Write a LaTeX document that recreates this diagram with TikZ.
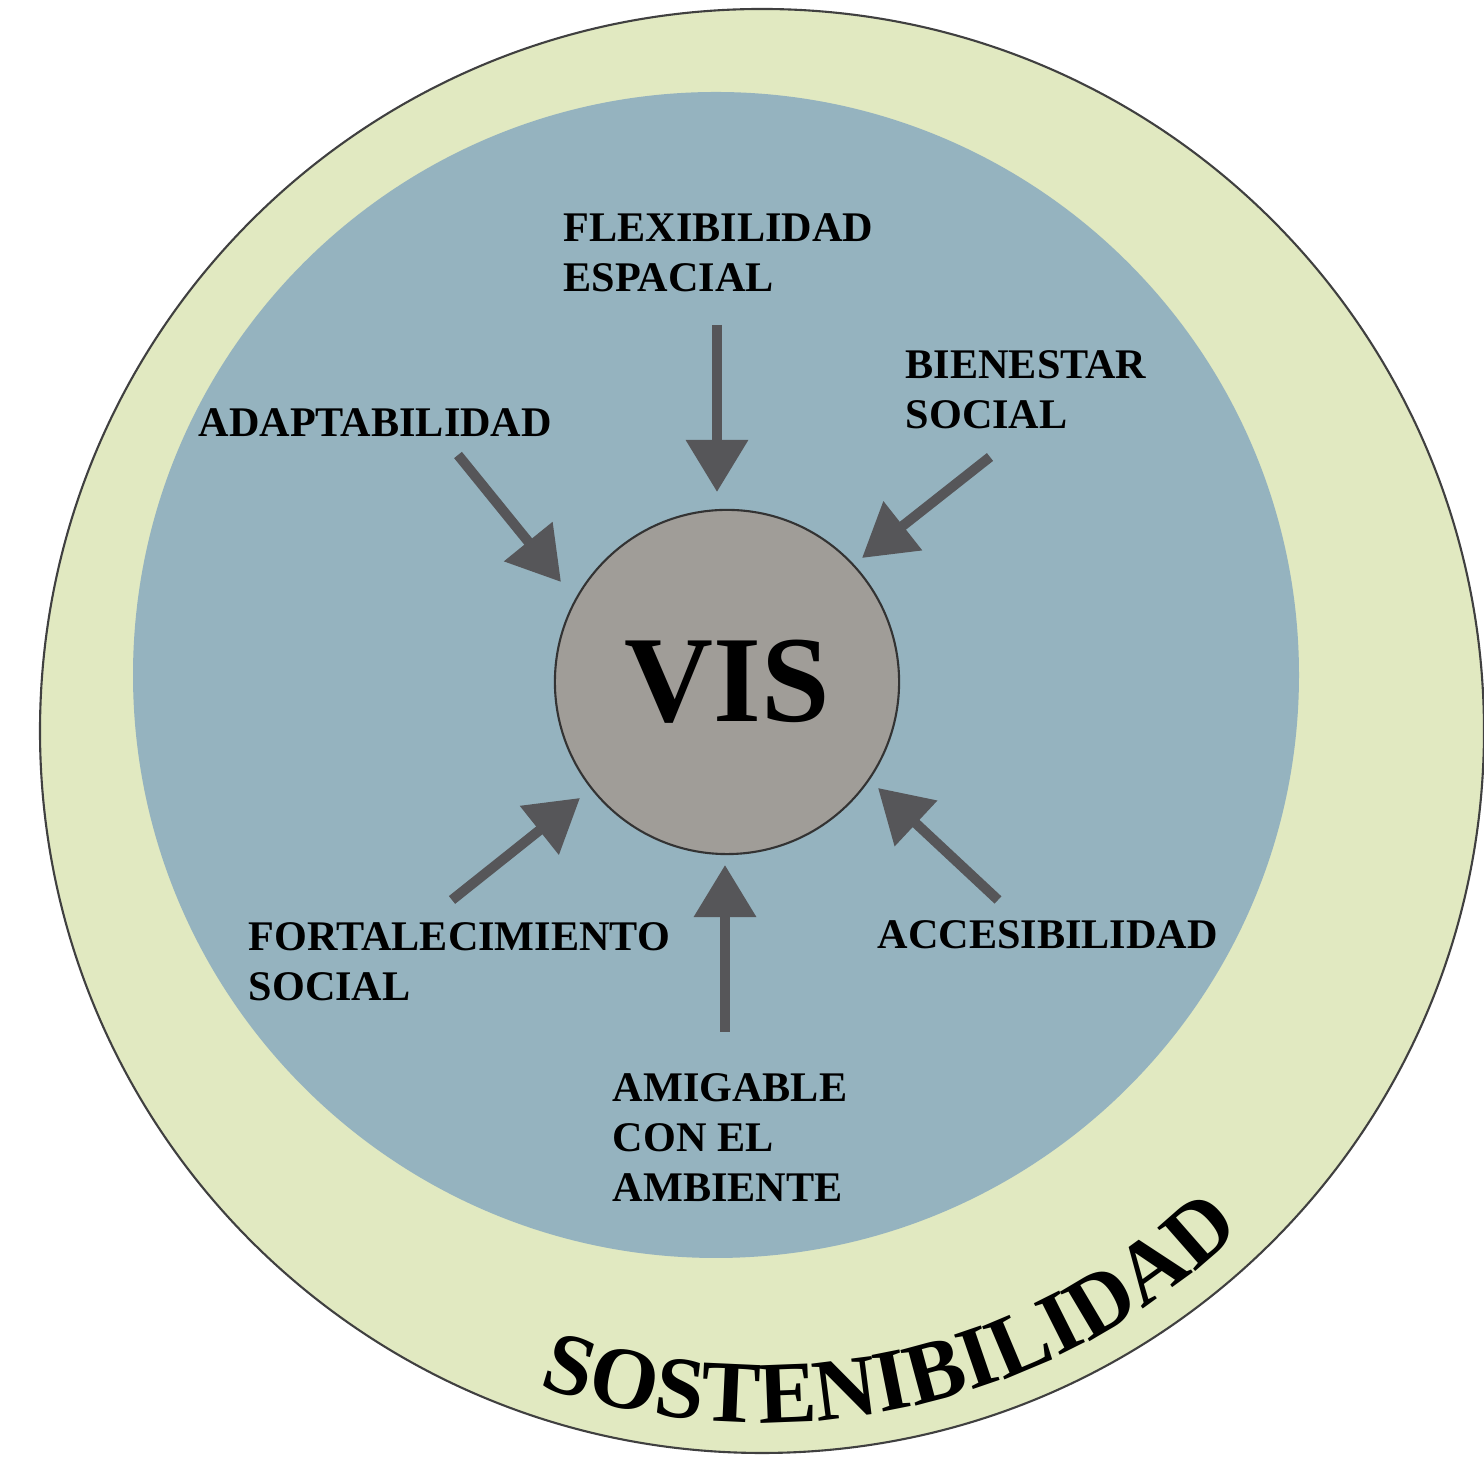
\documentclass[tikz,border=0pt]{standalone}
\usepackage{fontspec}
\setmainfont{Liberation Serif}
\usetikzlibrary{arrows.meta,decorations.text}
\definecolor{ringgreen}{RGB}{225,233,193}
\definecolor{coreblue}{RGB}{149,179,191}
\definecolor{visgray}{RGB}{160,157,152}
\definecolor{arrowgray}{RGB}{86,86,89}
\newcommand\ringfont{\fontsize{25pt}{25pt}\selectfont\bfseries}
\begin{document}
\begin{tikzpicture}[x=0.01cm,y=0.01cm,
  lbl/.style={anchor=north west, inner sep=0pt, align=left,
    font=\fontsize{12pt}{14.2pt}\selectfont\bfseries},
  feeds/.style={draw=arrowgray, line width=0.1cm,
    -{Triangle[length=5.2mm,width=6mm]}}]
\useasboundingbox (0,0) rectangle (1484,1458);

% outer ring and inner disc
\draw[fill=ringgreen, draw=black!75, line width=0.6pt] (762,727) circle[radius=722];
\fill[coreblue] (716,783) circle[radius=583];

% central node
\node[circle, fill=visgray, draw=black!80, line width=0.6pt, minimum size=3.44cm,
  inner sep=0pt, font=\fontsize{35pt}{35pt}\selectfont\bfseries] (vis) at (727,776) {VIS};

% factor labels
\node[lbl] (flex) at (563,1245) {FLEXIBILIDAD\\ESPACIAL};
\node[lbl] (bien) at (905,1108) {BIENESTAR\\SOCIAL};
\node[lbl] (adap) at (198,1050) {ADAPTABILIDAD};
\node[lbl] (fort) at (248,536) {FORTALECIMIENTO\\SOCIAL};
\node[lbl] (acce) at (877,538) {ACCESIBILIDAD};
\node[lbl] (amig) at (612,385) {AMIGABLE\\CON EL\\AMBIENTE};

% arrow ends
\coordinate (flexT) at (717,1133); \coordinate (flexH) at (717,966);
\coordinate (bienT) at (990,1001); \coordinate (bienH) at (862,900);
\coordinate (adapT) at (458,1003); \coordinate (adapH) at (561,876);
\coordinate (fortT) at (452,558);  \coordinate (fortH) at (580,660);
\coordinate (acceT) at (998,558);  \coordinate (acceH) at (878,670);
\coordinate (amigT) at (725,426);  \coordinate (amigH) at (725,593);

\draw[feeds] (flexT) -- (flexH);
\draw[feeds] (bienT) -- (bienH);
\draw[feeds] (adapT) -- (adapH);
\draw[feeds] (fortT) -- (fortH);
\draw[feeds] (acceT) -- (acceH);
\draw[feeds] (amigT) -- (amigH);

% curved title in the ring
\begin{scope}[shift={(762,727)}]
\path[decorate, decoration={text along path, text align=center,
  text={|\ringfont|SOSTENIBILIDAD}}]
  (242.5:692) arc[start angle=242.5, end angle=322.5, radius=692];
\end{scope}
\end{tikzpicture}
\end{document}
